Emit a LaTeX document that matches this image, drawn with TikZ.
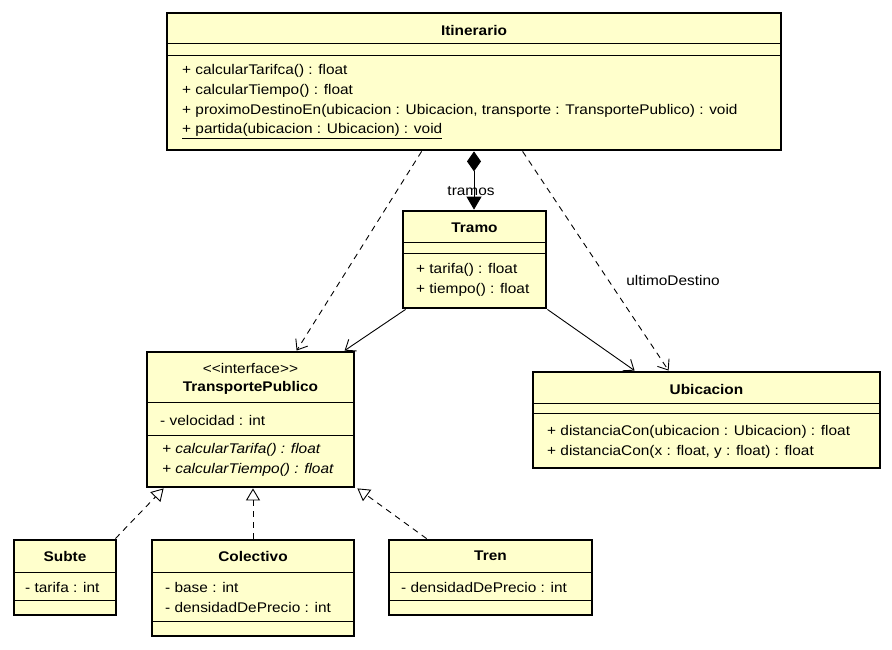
\documentclass[tikz,border=0pt]{standalone}
\usepackage{fontspec}
\setmainfont{Liberation Sans}[FakeStretch=1.1]
\usetikzlibrary{arrows.meta,fit,calc}
\definecolor{classfill}{HTML}{FFFFCC}

\begin{document}
\begin{tikzpicture}[x=1pt,y=-1pt,
  classbox/.style={draw, line width=2.8pt, fill=classfill, inner sep=0pt},
  sepline/.style={line width=1pt},
  member/.style={anchor=west, inner sep=0pt, font=\fontsize{14}{16}\selectfont},
  classname/.style={inner sep=0pt, font=\fontsize{14}{16}\selectfont\bfseries},
  stereo/.style={inner sep=0pt, font=\fontsize{14}{16}\selectfont},
  rolelabel/.style={inner sep=1pt, font=\fontsize{14}{16}\selectfont},
  conn/.style={line width=0.9pt},
  dashline/.style={conn, dash pattern=on 6pt off 5pt},
  openhead/.style={-{Straight Barb[length=9pt,width=14pt,line width=0.9pt]}},
  realize/.style={dashline, -{Triangle[open,length=12pt,width=14pt,fill=white,line width=0.9pt]}},
]
\useasboundingbox (0,0) rectangle (892,649);

% ---------- Itinerario ----------
\node[classbox, fit={(167,13) (781,150)}] (itin) {};
\node[classname] (itinT) at (474,30) {Itinerario};
\draw[sepline] (167,43) -- (781,43);
\draw[sepline] (167,55) -- (781,55);
\node[member] (itinM1) at (182,71) {+ calcularTarifca() : float};
\node[member] (itinM2) at (182,91) {+ calcularTiempo() : float};
\node[member] (itinM3) at (182,111) {+ proximoDestinoEn(ubicacion : Ubicacion, transporte : TransportePublico) : void};
\node[member] (itinM4) at (182,131) {\underline{+ partida(ubicacion : Ubicacion) : void}};

% ---------- Tramo ----------
\node[classbox, fit={(403,211) (546,308)}] (tramo) {};
\node[classname] (tramoT) at (474.5,228) {Tramo};
\draw[sepline] (403,242) -- (546,242);
\draw[sepline] (403,253) -- (546,253);
\node[member] (tramoM1) at (416,270) {+ tarifa() : float};
\node[member] (tramoM2) at (416,290) {+ tiempo() : float};

% ---------- TransportePublico ----------
\node[classbox, fit={(147,352) (354,487)}] (tp) {};
\node[stereo] (tpS) at (250.5,368) {<{}<interface>{}>};
\node[classname] (tpT) at (250.5,388) {TransportePublico};
\draw[sepline] (147,402) -- (354,402);
\node[member] (tpA1) at (160,420) {- velocidad : int};
\draw[sepline] (147,435) -- (354,435);
\node[member] (tpM1) at (162,450) {\itshape + calcularTarifa() : float};
\node[member] (tpM2) at (162,470) {\itshape + calcularTiempo() : float};

% ---------- Ubicacion ----------
\node[classbox, fit={(533,372) (880,468)}] (ubic) {};
\node[classname] (ubicT) at (706.5,389) {Ubicacion};
\draw[sepline] (533,403) -- (880,403);
\draw[sepline] (533,413) -- (880,413);
\node[member] (ubicM1) at (547,432) {+ distanciaCon(ubicacion : Ubicacion) : float};
\node[member] (ubicM2) at (547,452) {+ distanciaCon(x : float, y : float) : float};

% ---------- Subte ----------
\node[classbox, fit={(14,540) (116,615)}] (subte) {};
\node[classname] (subteT) at (65,556) {Subte};
\draw[sepline] (14,572) -- (116,572);
\node[member] (subteA1) at (25,587) {- tarifa : int};
\draw[sepline] (14,600) -- (116,600);

% ---------- Colectivo ----------
\node[classbox, fit={(152,540) (354,636)}] (colec) {};
\node[classname] (colecT) at (253,556) {Colectivo};
\draw[sepline] (152,572) -- (354,572);
\node[member] (colecA1) at (165,587) {- base : int};
\node[member] (colecA2) at (165,607) {- densidadDePrecio : int};
\draw[sepline] (152,621) -- (354,621);

% ---------- Tren ----------
\node[classbox, fit={(389,540) (592,615)}] (tren) {};
\node[classname] (trenT) at (490.5,556) {Tren};
\draw[sepline] (389,572) -- (592,572);
\node[member] (trenA1) at (401,587) {- densidadDePrecio : int};
\draw[sepline] (389,600) -- (592,600);

% ---------- Relationships ----------
% composition Itinerario -> Tramo
\draw[conn, {Diamond[length=20pt,width=14pt]}-{Triangle[length=13pt,width=15pt]}]
  (itin.south) -- (itin.south |- tramo.north);
\node[rolelabel] (tramosL) at (471,191) {tramos};

% dependencies from Itinerario
\draw[dashline, openhead]
  ([xshift=256pt]itin.south west) -- ([xshift=151pt]tp.north west);
\draw[dashline, openhead]
  ([xshift=357pt]itin.south west) -- ([xshift=137pt]ubic.north west);
\node[rolelabel] (ultimoL) at (673,280) {ultimoDestino};

% associations from Tramo
\draw[conn, openhead]
  ([xshift=4pt]tramo.south west) -- ([xshift=199pt]tp.north west);
\draw[conn, openhead]
  (tramo.south east) -- ([xshift=103pt]ubic.north west);

% realizations of TransportePublico
\draw[realize] ([xshift=-2pt]subte.north east) -- ([xshift=18pt]tp.south west);
\draw[realize] (colec.north) -- (colec.north |- tp.south);
\draw[realize] ([xshift=39pt]tren.north west) -- ([xshift=2pt]tp.south east);
\end{tikzpicture}
\end{document}
